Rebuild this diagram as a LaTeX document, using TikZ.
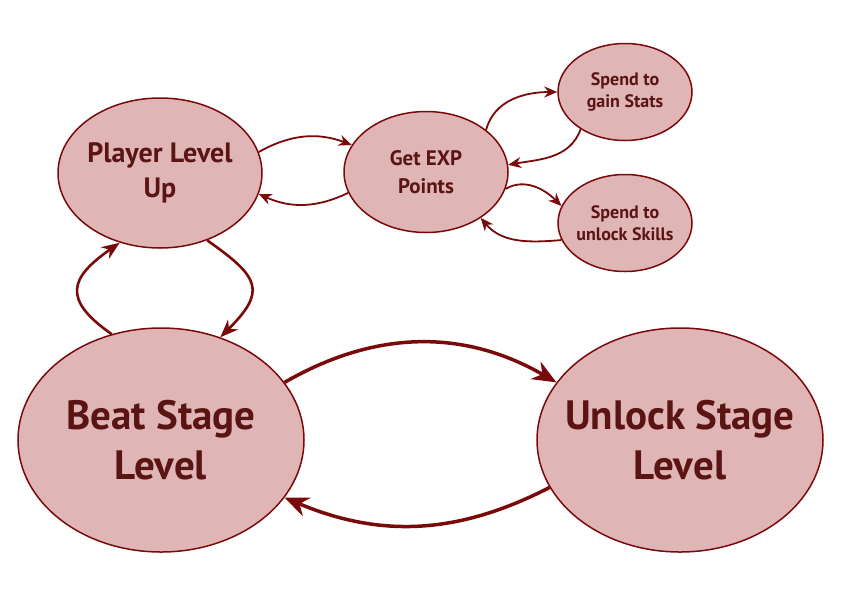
\documentclass[tikz,border=0pt]{standalone}
\usepackage{fontspec}
\setmainfont{PT Sans}
\usepackage{xcolor}
\usetikzlibrary{shapes.geometric}
\usetikzlibrary{arrows.meta}

\definecolor{ringred}{HTML}{7A0A0A}
\definecolor{bubble}{HTML}{E0B5B5}
\definecolor{inkred}{HTML}{5A1414}

\begin{document}
\begin{tikzpicture}[x=1pt,y=-1pt]
\useasboundingbox (0,0) rectangle (842,595);

\begin{scope}[every node/.style={ellipse,draw=ringred,fill=bubble,line width=1.5pt,
                                 inner sep=0pt,align=center,text=inkred}]
    \node[minimum width=204pt,minimum height=150pt,inner xsep=-10pt,
          font=\bfseries\fontsize{28}{35}\selectfont] (plup) at (160,173)
        {Player Level\\Up};
    \node[minimum width=164pt,minimum height=121pt,
          font=\bfseries\fontsize{21}{28}\selectfont] (exp) at (426,172)
        {Get EXP\\Points};
    \node[minimum width=134pt,minimum height=97pt,inner xsep=-10pt,
          font=\bfseries\fontsize{18}{22}\selectfont] (stats) at (625,92)
        {Spend to\\gain Stats};
    \node[minimum width=134pt,minimum height=97pt,inner xsep=-10pt,
          font=\bfseries\fontsize{18}{22}\selectfont] (skills) at (625,223)
        {Spend to\\unlock Skills};
    \node[minimum width=286pt,minimum height=224pt,inner xsep=-25pt,
          font=\bfseries\fontsize{41}{50}\selectfont] (beat) at (161,440)
        {Beat Stage\\Level};
    \node[minimum width=286pt,minimum height=224pt,inner xsep=-25pt,
          font=\bfseries\fontsize{41}{50}\selectfont] (unlock) at (680,440)
        {Unlock Stage\\Level};
    \end{scope}

\begin{scope}[>={Stealth[ringred,length=13pt,width=11pt]},
              every edge/.style={draw=ringred,line width=1.8pt}]
    \path [->] (plup.12) edge[bend left=25] (exp.160);
    \path [->] (exp.195) edge[bend left=25] (plup.-12);
    \path [->] (exp.35) edge[out=75,in=180] (stats.180);
    \path [->] (stats.220) edge[out=-110,in=10] (exp.5);
    \path [->] (exp.-12) edge[out=30,in=135] (skills.165);
    \path [->] (skills.195) edge[out=185,in=-50] (exp.-40);
    \end{scope}

\begin{scope}[>={Stealth[ringred,length=18pt,width=14pt]},
              every edge/.style={draw=ringred,line width=2.6pt}]
    \path [->] (beat.115) edge[out=145,in=215,looseness=1.7] (plup.240);
    \path [->] (plup.-55) edge[out=-35,in=45,looseness=1.7] (beat.60);
    \end{scope}

\begin{scope}[>={Stealth[ringred,length=24pt,width=20pt]},
              every edge/.style={draw=ringred,line width=3.5pt}]
    \path [->] (beat.25) edge[bend left=30] (unlock.155);
    \path [->] (unlock.200) edge[bend left=25] (beat.-25);
    \end{scope}

\end{tikzpicture}
\end{document}
